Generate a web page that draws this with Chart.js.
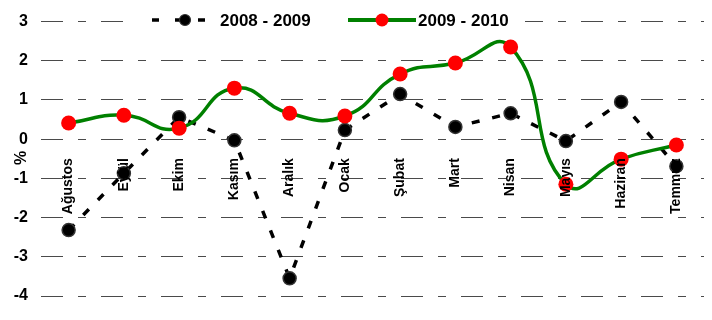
<!DOCTYPE html>
<html>
<head>
<meta charset="utf-8">
<script src="https://cdn.jsdelivr.net/npm/chart.js@4/dist/chart.umd.min.js"></script>
<style>
  html, body { margin: 0; padding: 0; background: #fff; }
  #wrap { width: 712px; height: 320px; position: relative; }
</style>
</head>
<body>
<div id="wrap"><canvas id="grafico"></canvas></div>
<script>
// =====================
// DATOS
// =====================
const months = ["Ağustos", "Eylül", "Ekim", "Kasım", "Aralık", "Ocak",
                "Şubat", "Mart", "Nisan", "Mayıs", "Haziran", "Temmuz"];
const seriesNames = ["2008 - 2009", "2009 - 2010"];
const values0809 = [-2.32, -0.87, 0.56, -0.03, -3.55, 0.23, 1.15, 0.31, 0.66, -0.05, 0.95, -0.69];
const values0910 = [0.41, 0.61, 0.28, 1.30, 0.66, 0.59, 1.66, 1.94, 2.35, -1.15, -0.51, -0.15];
const yTicks = [3, 2, 1, 0, -1, -2, -3, -4];

const FONT = "'Liberation Sans', Arial, sans-serif";

// leyenda y "%" dibujados a mano
const extras = {
  id: "extras",
  afterDraw(chart) {
    const ctx = chart.ctx;
    ctx.save();
    ctx.fillStyle = "#fff";
    ctx.fillRect(130, 8, 395, 26);

    const y = 20;
    // 2008 - 2009
    ctx.strokeStyle = "#000";
    ctx.lineWidth = 3.5;
    ctx.setLineDash([7, 16]);
    ctx.beginPath(); ctx.moveTo(152, y); ctx.lineTo(206, y); ctx.stroke();
    ctx.setLineDash([]);
    ctx.beginPath(); ctx.arc(185, y, 5.5, 0, Math.PI * 2);
    ctx.fillStyle = "#000"; ctx.fill();
    ctx.strokeStyle = "#333"; ctx.lineWidth = 1.2; ctx.stroke();

    // 2009 - 2010
    ctx.strokeStyle = "#008000";
    ctx.lineWidth = 4;
    ctx.beginPath(); ctx.moveTo(348, y); ctx.lineTo(416, y); ctx.stroke();
    ctx.beginPath(); ctx.arc(382, y, 6.5, 0, Math.PI * 2);
    ctx.fillStyle = "#ff0000"; ctx.fill();

    ctx.fillStyle = "#000";
    ctx.font = "bold 17px " + FONT;
    ctx.textBaseline = "middle";
    ctx.textAlign = "left";
    ctx.fillText(seriesNames[0], 220, y + 1);
    ctx.fillText(seriesNames[1], 418, y + 1);

    // eje "%"
    ctx.font = "bold 16px " + FONT;
    ctx.translate(22, 158);
    ctx.rotate(-Math.PI / 2);
    ctx.textAlign = "center";
    ctx.fillText("%", 0, 0);
    ctx.restore();
  }
};

new Chart(document.getElementById("grafico"), {
  type: "line",
  data: {
    labels: months,
    datasets: [
      {
        label: seriesNames[0],
        data: values0809,
        order: 1,
        borderColor: "#000",
        borderWidth: 3.5,
        borderDash: [8, 13],
        tension: 0,
        pointRadius: 6.5,
        pointBackgroundColor: "#000",
        pointBorderColor: "#333",
        pointBorderWidth: 1.5
      },
      {
        label: seriesNames[1],
        data: values0910,
        order: 0,
        borderColor: "#008000",
        borderWidth: 3.5,
        tension: 0.5,
        pointRadius: 7.5,
        pointBackgroundColor: "#ff0000",
        pointBorderColor: "#ff0000",
        pointBorderWidth: 0
      }
    ]
  },
  options: {
    responsive: true,
    maintainAspectRatio: false,
    animation: false,
    layout: { padding: { top: 21.5, right: 4, bottom: 24, left: 0 } },
    plugins: {
      legend: { display: false },
      tooltip: { enabled: false }
    },
    scales: {
      x: {
        position: { y: 0 },
        offset: true,
        grid: { display: false },
        border: { display: false },
        ticks: {
          z: 1, // etiquetas por encima de las series
          autoSkip: false,
          maxRotation: 90,
          minRotation: 90,
          padding: 11,
          color: "#000",
          font: { family: FONT, size: 14, weight: "bold" }
        }
      },
      y: {
        min: -4,
        max: 3,
        afterFit(scale) {
          scale.width = 41;
          scale.paddingTop = 0;
          scale.paddingBottom = 0;
        },
        afterBuildTicks(scale) {
          scale.ticks = yTicks.map(v => ({ value: v }));
        },
        grid: { color: "#4a4a4a", lineWidth: 1, drawTicks: false },
        border: { display: false, dash: [22, 15, 8, 15] },
        ticks: {
          padding: 13,
          color: "#000",
          font: { family: FONT, size: 16, weight: "bold" }
        }
      }
    }
  },
  plugins: [extras]
});
</script>
</body>
</html>
